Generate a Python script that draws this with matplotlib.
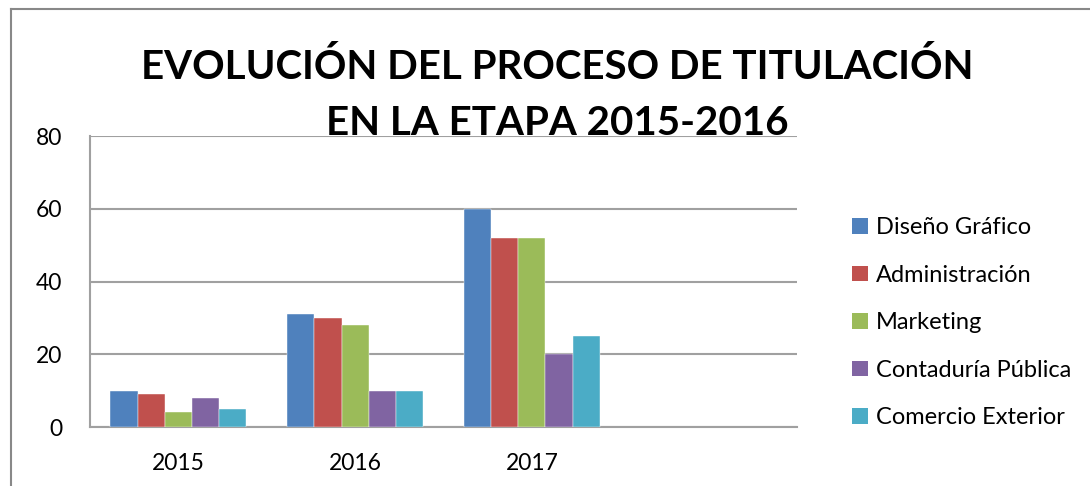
import matplotlib
matplotlib.use("Agg")
import matplotlib.pyplot as plt
from matplotlib.patches import Patch
from matplotlib.lines import Line2D
import numpy as np

plt.rcParams['font.family'] = ['Lato', 'DejaVu Sans']

categories = ["2015", "2016", "2017", ""]
series_names = ["Diseño Gráfico", "Administración", "Marketing",
                "Contaduría Pública", "Comercio Exterior"]
diseno = [10, 31, 60, None]
administracion = [9, 30, 52, None]
marketing = [4, 28, 52, None]
contaduria = [8, 10, 20, None]
comercio = [5, 10, 25, None]
series_values = [diseno, administracion, marketing, contaduria, comercio]
colors = ["#4F81BD", "#C0504D", "#9BBB59", "#8064A2", "#4BACC6"]
yticks = [0, 20, 40, 60, 80]
title_lines = ["EVOLUCIÓN DEL PROCESO DE TITULACIÓN", "EN LA ETAPA 2015-2016"]

W, H = 1090, 486
fig = plt.figure(figsize=(W / 100, H / 100), dpi=100)
ax = fig.add_axes([90 / W, 1 - 427 / H, (797 - 90) / W, (427 - 136) / H])

n = len(series_values)
bw = 1 / (n + 1.5)
x = np.arange(len(categories))
for i, (vals, c) in enumerate(zip(series_values, colors)):
    v = [np.nan if a is None else a for a in vals]
    ax.bar(x - 2.5 * bw + (i + 0.5) * bw, v, width=bw, color=c, zorder=3,
           edgecolor='white', linewidth=0.3)

ax.set_xlim(-0.5, len(categories) - 0.5)
ax.set_ylim(0, 80)
ax.set_yticks(yticks)
ax.set_xticks(x)
ax.set_xticklabels(categories)
ax.grid(axis='y', color='#A0A0A0', linewidth=1.5, zorder=0)
ax.tick_params(axis='both', length=0, labelsize=16.5, colors='black')
ax.tick_params(axis='y', pad=20)
ax.tick_params(axis='x', pad=19)
for s in ['right', 'top']:
    ax.spines[s].set_visible(False)
ax.spines['left'].set_color('#A0A0A0')
ax.spines['bottom'].set_color('#A0A0A0')
ax.spines['left'].set_linewidth(1.5)
ax.spines['bottom'].set_linewidth(1.5)

handles = [Patch(facecolor=c, edgecolor='none') for c in colors]
leg = fig.legend(handles, series_names, loc='upper left',
                 bbox_to_anchor=(843 / W, 1 - 208 / H), frameon=False,
                 fontsize=17, handlelength=0.65, handleheight=0.65,
                 handletextpad=0.35, labelspacing=1.12, borderaxespad=0)

fig.text(557 / W, 1 - 79 / H, title_lines[0],
         ha='center', va='baseline', fontsize=29, fontweight='bold')
fig.text(557 / W, 1 - 135 / H, title_lines[1],
         ha='center', va='baseline', fontsize=29, fontweight='bold')

fig.add_artist(Line2D([11 / W, 11 / W], [0, 1 - 9 / H], color='#888888',
                      linewidth=1.5, transform=fig.transFigure))
fig.add_artist(Line2D([11 / W, 1], [1 - 9 / H, 1 - 9 / H], color='#888888',
                      linewidth=1.5, transform=fig.transFigure))

fig.savefig("out.png", dpi=100, facecolor='white')
